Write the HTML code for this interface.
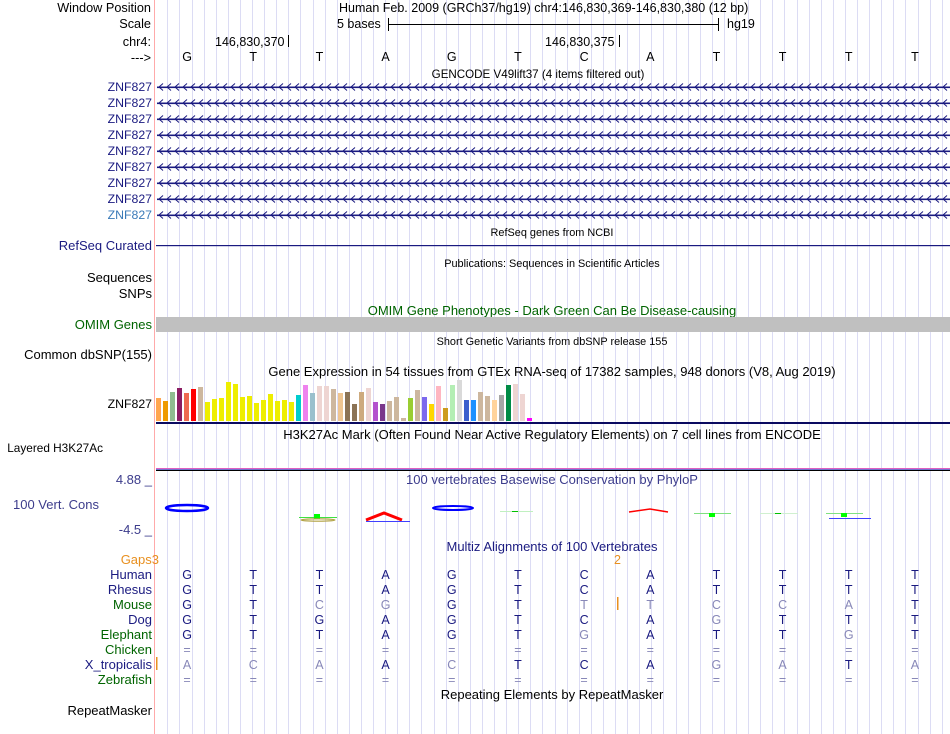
<!DOCTYPE html>
<html><head><meta charset="utf-8"><style>
body{margin:0;background:#fff;width:950px;height:734px;overflow:hidden}
svg{font-family:"Liberation Sans",sans-serif;display:block}
</style></head><body>
<svg id="c" width="950" height="734" xmlns="http://www.w3.org/2000/svg">
<g id="grid"></g>
<rect x="154" y="0" width="1" height="734" fill="#ffaaaa"/>
<g font-size="12.7" text-anchor="end" fill="#000">
<text x="151" y="12">Window Position</text>
<text x="151" y="28">Scale</text>
<text x="151" y="46">chr4:</text>
<text x="151" y="62">---&gt;</text>
</g>
<g font-size="12.5" fill="#000">
<text x="339" y="12">Human Feb. 2009 (GRCh37/hg19)   chr4:146,830,369-146,830,380 (12 bp)</text>
<text x="337" y="28">5 bases</text>
<text x="727" y="28">hg19</text>
<text x="215" y="46">146,830,370</text>
<text x="545" y="46">146,830,375</text>
</g>
<g stroke="#000" stroke-width="1">
<line x1="388.5" y1="18" x2="388.5" y2="31"/><line x1="718.5" y1="18" x2="718.5" y2="31"/><line x1="388" y1="24.5" x2="719" y2="24.5"/>
<line x1="288.5" y1="35" x2="288.5" y2="47"/><line x1="619.5" y1="35" x2="619.5" y2="47"/>
</g>
<g id="bases" font-size="12.5" text-anchor="middle"></g>
<g font-size="13" text-anchor="middle">
<text x="538" y="78" font-size="11.6">GENCODE V49lift37 (4 items filtered out)</text>
<text x="552" y="236" font-size="10.9">RefSeq genes from NCBI</text>
<text x="552" y="267" font-size="10.9">Publications: Sequences in Scientific Articles</text>
<text x="552" y="315" fill="#006400">OMIM Gene Phenotypes - Dark Green Can Be Disease-causing</text>
<text x="552" y="345" font-size="10.9">Short Genetic Variants from dbSNP release 155</text>
<text x="552" y="376">Gene Expression in 54 tissues from GTEx RNA-seq of 17382 samples, 948 donors (V8, Aug 2019)</text>
<text x="552" y="439">H3K27Ac Mark (Often Found Near Active Regulatory Elements) on 7 cell lines from ENCODE</text>
<text x="552" y="484" fill="#3c3c8c">100 vertebrates Basewise Conservation by PhyloP</text>
<text x="552" y="551" fill="#1a1a80">Multiz Alignments of 100 Vertebrates</text>
<text x="552" y="699" fill="#000">Repeating Elements by RepeatMasker</text>
</g>
<g id="genes"></g>
<g font-size="13" text-anchor="end">
<text x="152" y="250" fill="#1a1a80">RefSeq Curated</text>
<text x="152" y="282" fill="#000">Sequences</text>
<text x="152" y="298" fill="#000">SNPs</text>
<text x="152" y="329" fill="#006400">OMIM Genes</text>
<text x="152" y="359" fill="#000">Common dbSNP(155)</text>
<text x="152" y="408" font-size="12.3" fill="#000">ZNF827</text>
<text x="103" y="452" font-size="11.8" fill="#000">Layered H3K27Ac</text>
<text x="152" y="484" fill="#3c3c8c">4.88 _</text>
<text x="99" y="509" fill="#3c3c8c">100 Vert. Cons</text>
<text x="152" y="534" fill="#3c3c8c">-4.5 _</text>
<text x="159" y="564" fill="#e89020">Gaps3</text>
<text x="152" y="715" fill="#000">RepeatMasker</text>
</g>
<text x="614" y="564" font-size="12.5" fill="#e89020">2</text>
<rect x="156" y="245" width="794" height="1.2" fill="#1a1a80"/>
<rect x="156" y="317" width="794" height="15" fill="#c0c0c0"/>
<g id="gtex"></g>
<rect x="156" y="422" width="794" height="2" fill="#0a0a60"/>
<rect x="156" y="468" width="794" height="1" fill="#e060c0"/>
<rect x="156" y="469" width="794" height="1" fill="#7070d0"/>
<rect x="156" y="470" width="794" height="1" fill="#000"/>
<g>
<ellipse cx="187" cy="508" rx="21" ry="3" fill="none" stroke="#0000ff" stroke-width="2.5"/>
<rect x="299" y="517" width="38" height="1" fill="#40e040"/><rect x="314" y="514" width="6" height="5" fill="#00ff00"/>
<ellipse cx="318" cy="520" rx="17" ry="1.2" fill="none" stroke="#b0a040" stroke-width="1.2"/>
<path d="M366 520 L384 513 L402 520" fill="none" stroke="#ff0000" stroke-width="3"/><rect x="366" y="521" width="44" height="1" fill="#4040ff"/>
<ellipse cx="453" cy="508" rx="20" ry="2" fill="none" stroke="#0000ff" stroke-width="2"/>
<rect x="500" y="511" width="33" height="1" fill="#c0f0c0"/><rect x="512" y="511" width="6" height="1" fill="#00c000"/>
<path d="M629 512 L650 509 L668 512" fill="none" stroke="#ff0000" stroke-width="1.5"/>
<rect x="694" y="513" width="37" height="1" fill="#80e080"/><rect x="709" y="513" width="6" height="4" fill="#00ff00"/>
<rect x="760" y="513" width="38" height="1" fill="#d0f0d0"/><rect x="775" y="513" width="6" height="1" fill="#00c000"/>
<rect x="826" y="513" width="37" height="1" fill="#80e080"/><rect x="841" y="513" width="6" height="4" fill="#00ff00"/>
<rect x="829" y="518" width="42" height="1" fill="#4040ff"/>
</g>
<g id="multiz" font-size="12.5" text-anchor="middle"></g>
<rect x="617" y="597" width="1.5" height="13" fill="#e89020"/>
<rect x="156" y="657" width="1.5" height="13" fill="#e89020"/>
</svg>
<script>
const baseSeq=["G","T","T","A","G","T","C","A","T","T","T","T"];
const geneNames=["ZNF827","ZNF827","ZNF827","ZNF827","ZNF827","ZNF827","ZNF827","ZNF827","ZNF827"];
const gtexHeights=[23,20,29,33,28,32,34,19,22,23,39,37,24,25,18,21,27,20,21,19,26,36,28,35,35,32,28,29,17,29,33,19,17,20,24,3,23,31,24,17,35,13,36,41,21,21,29,25,21,26,36,37,27,3];
const gtexColors=["#ffa54f","#ee9a00","#8fbc8f","#8b1c62","#ee6a50","#ff0000","#cdb79e","#eeee00","#eeee00","#eeee00","#eeee00","#eeee00","#eeee00","#eeee00","#eeee00","#eeee00","#eeee00","#eeee00","#eeee00","#eeee00","#00cdcd","#ee82ee","#9ac0cd","#eed5d2","#eed5d2","#cdb79e","#eec591","#8b7355","#8b7355","#cdaa7d","#eed5d2","#b452cd","#7a378b","#cdb79e","#cdb79e","#cdb79e","#9acd32","#cdb79e","#7b68ee","#ffd700","#ffb6c1","#cd9b1d","#b4eeb4","#d9d9d9","#3a5fcd","#1e90ff","#cdb79e","#cdb79e","#ffd39b","#a6a6a6","#008b45","#eed5d2","#eed5d2","#ff00ff"];
const species=["Human","Rhesus","Mouse","Dog","Elephant","Chicken","X_tropicalis","Zebrafish"];
const speciesColor=["#1a1a80","#1a1a80","#006400","#1a1a80","#006400","#006400","#1a1a80","#006400"];
const alnSeqs=["GTTAGTCATTTT","GTTAGTCATTTT","GTCGGTTTCCAT","GTGAGTCAGTTT","GTTAGTGATTGT","============","ACAACTCAGATA","============"];
const alnMatch=["111111111111","111111111111","110011000001","111111110111","111111011101","000000000000","000101110010","000000000000"];
const NS="http://www.w3.org/2000/svg";
const x0=156,x1=950,nb=baseSeq.length,bw=(x1-x0)/nb;
const bx=i=>x0+bw*(i+0.5)-2;
function mk(t,a,p){const e=document.createElementNS(NS,t);for(const k in a)e.setAttribute(k,a[k]);p.appendChild(e);return e;}
const grid=document.getElementById('grid');
for(let x=167.3;x<950;x+=12.1){const l=mk('rect',{x:Math.round(x),y:0,width:1,height:734,fill:'#dcdcf4'},grid);

}
const bg=document.getElementById('bases');
baseSeq.forEach((b,i)=>{const t=mk('text',{x:bx(i),y:61},bg);t.textContent=b;

});
const gg=document.getElementById('genes');
geneNames.forEach((g,r)=>{const y=87+r*16;const col=r==geneNames.length-1?'#3a7ab8':'#1a1a80';
const lab=mk('text',{x:152,y:y+4,'font-size':12.3,'text-anchor':'end',fill:col},gg);lab.textContent=g;


const ln=mk('rect',{x:157,y:y-0.5,width:793,height:1.6,fill:'#1a1a80'},gg);


let d='';for(let x=159;x<948;x+=8)d+=`M${x+4} ${y-3.5}L${x} ${y}L${x+4} ${y+3.5}`;
const p=mk('path',{d:d,stroke:'#1a1a80','stroke-width':1,fill:'none'},gg);

});
const gt=document.getElementById('gtex');
const base=421,step=7.0;
gtexHeights.forEach((h,i)=>{const r=mk('rect',{x:156+i*step,y:base-h,width:5,height:h,fill:gtexColors[i]},gt);

});
const mz=document.getElementById('multiz');
species.forEach((s,r)=>{const y=579+r*15;
const l=mk('text',{x:152,y:y,'text-anchor':'end','font-size':13,fill:speciesColor[r]},mz);l.textContent=s;


[...alnSeqs[r]].forEach((c,i)=>{const t=mk('text',{x:bx(i),y:y,fill:alnMatch[r][i]=='1'?'#1a1a80':'#8888b8'},mz);t.textContent=c;

});});
</script>
</body></html>
